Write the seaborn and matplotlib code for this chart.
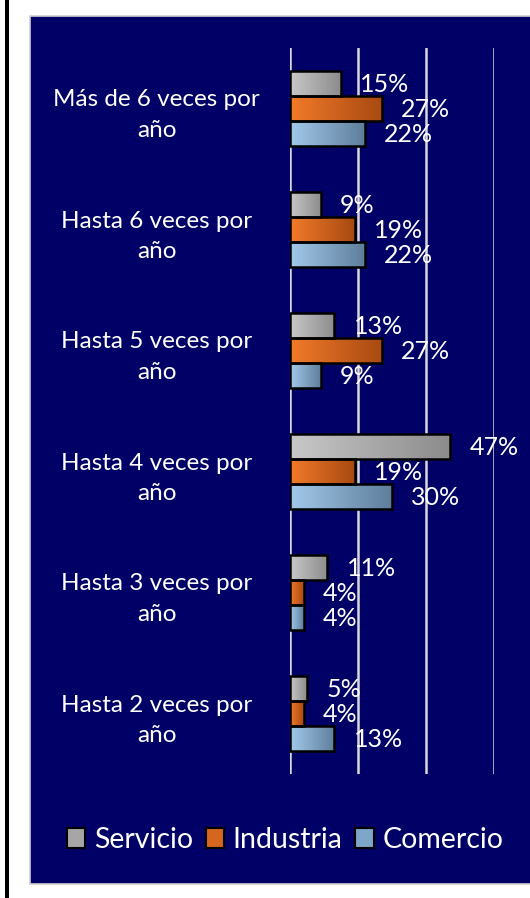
import numpy as np
import pandas as pd
import matplotlib.pyplot as plt
import seaborn as sns
from matplotlib.patches import Rectangle
from matplotlib.colors import LinearSegmentedColormap

# data
categorias = ['Más de 6 veces por\naño', 'Hasta 6 veces por\naño', 'Hasta 5 veces por\naño',
              'Hasta 4 veces por\naño', 'Hasta 3 veces por\naño', 'Hasta 2 veces por\naño']
servicio = [15, 9, 13, 47, 11, 5]
industria = [27, 19, 27, 19, 4, 4]
comercio = [22, 22, 9, 30, 4, 13]
sectores = ['Servicio', 'Industria', 'Comercio']

df = pd.DataFrame({
    'cat': categorias * 3,
    'sector': ['Servicio'] * 6 + ['Industria'] * 6 + ['Comercio'] * 6,
    'val': servicio + industria + comercio,
})

colores = {'Servicio': '#a6a6a6', 'Industria': '#d4661f', 'Comercio': '#7ea6c8'}
degradados = {'Servicio': ('#c8c8c8', '#8c8c8c'),
              'Industria': ('#f27a2a', '#a84a12'),
              'Comercio': ('#a2c9ea', '#5f7e9c')}
navy = '#000066'

sns.set_style('white')
plt.rcParams['font.family'] = ['Lato', 'DejaVu Sans']

fig = plt.figure(figsize=(5.3, 8.98), dpi=100)
fig.patch.set_facecolor('white')
# navy panel + black line on the left
fig.add_artist(Rectangle((30 / 530, 1 - 884 / 898), 1.0, (884 - 16) / 898, transform=fig.transFigure,
                         facecolor=navy, edgecolor='#d0d0d0', lw=1.2, zorder=0))
fig.add_artist(Rectangle((5 / 530, 0), 3.5 / 530, 1, transform=fig.transFigure,
                         facecolor='black', edgecolor='none', zorder=0))

ax = fig.add_axes([290 / 530, 1 - 774 / 898, (494 - 290) / 530, (774 - 48) / 898])
ax.set_facecolor('none')

sns.barplot(data=df, y='cat', x='val', hue='sector', hue_order=sectores, orient='h',
            palette=colores, width=0.62, edgecolor='black', linewidth=1.8, ax=ax,
            legend=False, zorder=3)

ax.set_xlim(0, 60)
ax.set_ylim(5.5, -0.5)
ax.set_xticks([0, 20, 40, 60])
ax.xaxis.grid(True, color='#d9d9d9', lw=1.8, zorder=0)
ax.yaxis.grid(False)
ax.set_xticklabels([])
ax.set_xlabel('')
ax.set_ylabel('')
for s in ax.spines.values():
    s.set_visible(False)
ax.tick_params(axis='both', length=0)
for lbl in ax.get_yticklabels():
    lbl.set_color('white')
    lbl.set_fontsize(17.5)
    lbl.set_multialignment('center')
    lbl.set_horizontalalignment('center')
    lbl.set_linespacing(1.55)
    lbl.set_x(-0.63)

# gradient fill and value labels
for cont, sector in zip(ax.containers, sectores):
    cmap = LinearSegmentedColormap.from_list(sector, degradados[sector])
    for p in cont.patches:
        x0, y0, w, h = p.get_x(), p.get_y(), p.get_width(), p.get_height()
        grad = np.linspace(0, 1, 64).reshape(1, -1)
        im = ax.imshow(grad, extent=[x0, x0 + w, y0 + h, y0], cmap=cmap, aspect='auto', zorder=3.5)
        im.set_clip_path(p)
        p.set_facecolor('none')
        p.set_zorder(4)
        ax.annotate(f'{int(round(w))}%', (x0 + w, y0 + h / 2), xytext=(14, -1),
                    textcoords='offset points', va='center', ha='left',
                    color='white', fontsize=18, zorder=5)
ax.set_xlim(0, 60)
ax.set_ylim(5.5, -0.5)

handles = [Rectangle((0, 0), 1, 1, facecolor=colores[s], edgecolor='black', lw=1.5) for s in sectores]
leg = fig.legend(handles, sectores, loc='center', bbox_to_anchor=(285 / 530, 1 - 840 / 898), ncol=3,
                 frameon=False, handlelength=0.65, handleheight=0.65, handletextpad=0.3,
                 columnspacing=0.45, fontsize=20.5)
for t in leg.get_texts():
    t.set_color('white')

fig.savefig('out.png', dpi=100, facecolor=fig.get_facecolor())
